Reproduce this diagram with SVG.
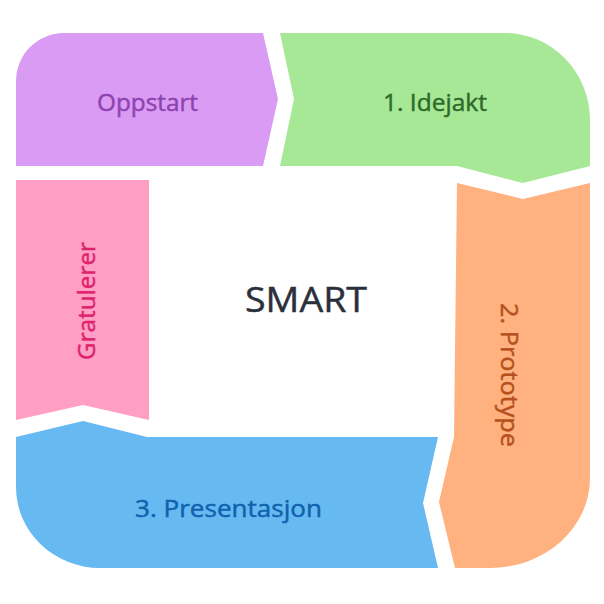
<svg xmlns="http://www.w3.org/2000/svg" width="604" height="604" viewBox="0 0 604 604">
<style>
text{font-family:"Open Sans",Lato,"Liberation Sans",sans-serif;font-size:24px;text-anchor:middle;stroke-width:0.45px}
.big{font-size:34px;fill:#2b2f3b;stroke:#2b2f3b}
</style>
<rect width="604" height="604" fill="#ffffff"/>
<g id="oppstart">
<path d="M16,166 L16,81 A48,48 0 0 1 64,33 L263,33 L278,99 L263,166 Z" fill="#d99bf3"/>
<text x="147.5" y="111" fill="#8e44b0" stroke="#8e44b0" textLength="101" lengthAdjust="spacingAndGlyphs">Oppstart</text>
</g>
<g id="idejakt">
<path d="M280,33 L505,33 A85,87 0 0 1 590,120 L590,166 L523,183 L457,166 L280,166 L294,99 Z" fill="#a6e896"/>
<text x="435" y="111" fill="#2f6a2a" stroke="#2f6a2a" textLength="104" lengthAdjust="spacingAndGlyphs">1. Idejakt</text>
</g>
<g id="prototype">
<path d="M457,183 L523,199 L590,183 L590,478 A100,90 0 0 1 490,568 L455,568 L439,502 L454,437 Z" fill="#ffb180"/>
<text transform="translate(501,375) rotate(90)" fill="#b5501c" stroke="#b5501c" textLength="144" lengthAdjust="spacingAndGlyphs">2. Prototype</text>
</g>
<g id="presentasjon">
<path d="M16,437 L83,421 L147,437 L438,437 L423,503 L438,568 L100,568 A84,81 0 0 1 16,487 Z" fill="#66b9f1"/>
<text x="228.5" y="517" fill="#0f62ae" stroke="#0f62ae" textLength="187" lengthAdjust="spacingAndGlyphs">3. Presentasjon</text>
</g>
<g id="gratulerer">
<path d="M16,180 L149,180 L149,420 L83,405 L16,420 Z" fill="#ff9fc4"/>
<text transform="translate(95,301) rotate(-90)" fill="#e0226c" stroke="#e0226c" textLength="118" lengthAdjust="spacingAndGlyphs">Gratulerer</text>
</g>
<g id="center">
<text class="big" x="306" y="312" textLength="122" lengthAdjust="spacingAndGlyphs">SMART</text>
</g>
<g id="connectors"></g>
</svg>
